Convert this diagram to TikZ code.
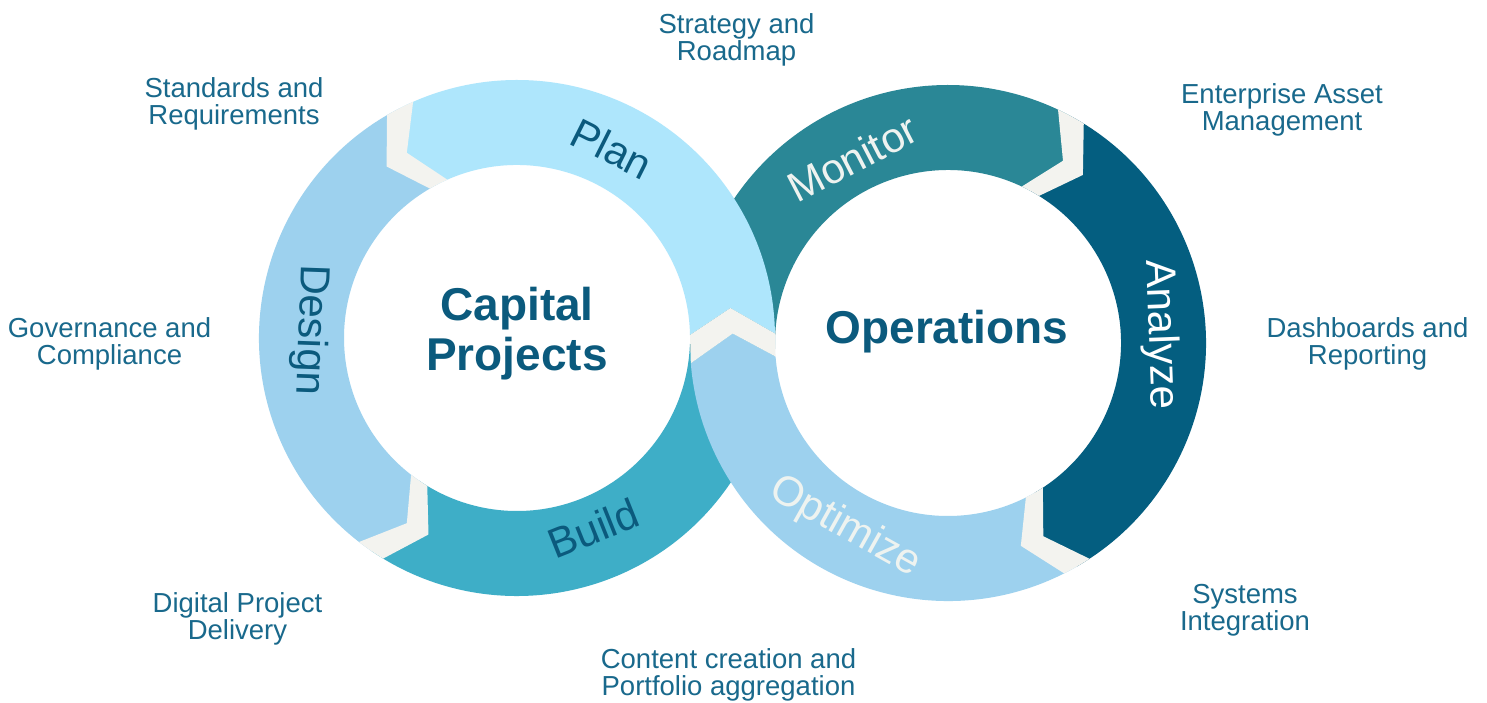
\documentclass[tikz,border=0pt]{standalone}
\usepackage{fontspec}
\setmainfont{Liberation Sans}
\usepackage{tikz}

\definecolor{plancol}{RGB}{174,230,252}
\definecolor{designcol}{RGB}{157,209,238}
\definecolor{buildcol}{RGB}{62,174,199}
\definecolor{monitorcol}{RGB}{42,135,150}
\definecolor{analyzecol}{RGB}{4,94,128}
\definecolor{optimizecol}{RGB}{157,209,238}
\definecolor{gapcol}{RGB}{243,243,239}
\definecolor{labelcol}{RGB}{25,105,140}
\definecolor{hubcol}{RGB}{11,90,125}
\definecolor{paletext}{RGB}{238,243,240}

\begin{document}
\begin{tikzpicture}[x=1pt,y=1pt,
    outerlabel/.style={text=labelcol, align=center, font=\fontsize{27.5}{27}\selectfont},
    ringlabel/.style={font=\fontsize{42}{42}\selectfont},
    hub/.style={text=hubcol, align=center, font=\fontsize{46}{50}\selectfont\bfseries}]

    \fill[white] (0,0) rectangle (1487,702);
    \useasboundingbox (0,0) rectangle (1487,702);

    % centres of the two rings
    \coordinate (cp) at (517,364);
    \coordinate (op) at (948,359);

    % left ring: Design and Build (Build runs under the crossing)
    \begin{scope}[shift={(cp)}]
    \fill[buildcol] (235.5:258) arc[start angle=235.5, end angle=358, radius=258] -- (365:215.5) -- (358:173) arc[start angle=358, end angle=235.5, radius=173] -- (242.5:215.5) -- cycle;
    \fill[designcol] (117:258) arc[start angle=117, end angle=235.5, radius=258] -- (242.5:215.5) -- (235.5:173) arc[start angle=235.5, end angle=117, radius=173] -- (124:215.5) -- cycle;
    \end{scope}

    % right ring: Monitor and Analyze (Monitor starts under the crossing)
    \begin{scope}[shift={(op)}]
    \fill[monitorcol] (182:258) arc[start angle=182, end angle=61.5, radius=258] -- (54.5:215.5) -- (61.5:173) arc[start angle=61.5, end angle=182, radius=173] -- (175:215.5) -- cycle;
    \fill[analyzecol] (61.5:258) arc[start angle=61.5, end angle=-60, radius=258] -- (-67:215.5) -- (-60:173) arc[start angle=-60, end angle=61.5, radius=173] -- (54.5:215.5) -- cycle;
    % Optimize lies on top at the crossing
    \fill[optimizecol] (-60:258) arc[start angle=-60, end angle=-175.5, radius=258] -- (-182.5:215.5) -- (-175.5:173) arc[start angle=-175.5, end angle=-60, radius=173] -- (-67:215.5) -- cycle;
    \end{scope}

    % Plan lies on top at the crossing
    \begin{scope}[shift={(cp)}]
    \fill[plancol] (1:258) arc[start angle=1, end angle=117, radius=258] -- (124:215.5) -- (117:173) arc[start angle=117, end angle=1, radius=173] -- (8:215.5) -- cycle;
    \end{scope}

    % chevron gaps
    \begin{scope}[shift={(cp)}]
    \fill[gapcol] (113.75:258) -- (120.75:215.5) -- (113.75:173) arc[start angle=113.75, end angle=120.25, radius=173] -- (127.25:215.5) -- (120.25:258) arc[start angle=120.25, end angle=113.75, radius=258] -- cycle;
    \fill[gapcol] (232.25:258) -- (239.25:215.5) -- (232.25:173) arc[start angle=232.25, end angle=238.75, radius=173] -- (245.75:215.5) -- (238.75:258) arc[start angle=238.75, end angle=232.25, radius=258] -- cycle;
    \end{scope}
    \begin{scope}[shift={(op)}]
    \fill[gapcol] (64.75:258) -- (57.75:215.5) -- (64.75:173) arc[start angle=64.75, end angle=58.25, radius=173] -- (51.25:215.5) -- (58.25:258) arc[start angle=58.25, end angle=64.75, radius=258] -- cycle;
    \fill[gapcol] (-56.75:258) -- (-63.75:215.5) -- (-56.75:173) arc[start angle=-56.75, end angle=-63.25, radius=173] -- (-70.25:215.5) -- (-63.25:258) arc[start angle=-63.25, end angle=-56.75, radius=258] -- cycle;
    \end{scope}
    % gap at the crossing, from Optimize into Plan
    \fill[gapcol] ([shift={(-175.5:258)}]op) -- ([shift={(177.5:215.5)}]op) -- ([shift={(-175.5:173)}]op)
        -- ([shift={(1:258)}]cp) -- ([shift={(8:215.5)}]cp) -- ([shift={(1:173)}]cp) -- cycle;

    % phase names on the rings
    \node[ringlabel, text=hubcol, rotate=-26.6] (plan) at ([shift={(63.4:212)}]cp) {Plan};
    \node[ringlabel, text=hubcol, rotate=-92] (design) at ([shift={(177.8:207)}]cp) {Design};
    \node[ringlabel, text=hubcol, rotate=21.8] (build) at ([shift={(-68.2:205)}]cp) {Build};
    \node[ringlabel, text=paletext, rotate=27.4] (monitor) at ([shift={(117.4:208)}]op) {Monitor};
    \node[ringlabel, text=white, rotate=-87.8] (analyze) at ([shift={(2.2:212)}]op) {Analyze};
    \node[ringlabel, text=paletext, rotate=-29.2] (optimize) at ([shift={(240.8:211)}]op) {Optimize};

    % ring titles
    \node[hub] (capital) at (517,368) {Capital\\Projects};
    \node[hub, anchor=base] (operations) at (947,358) {Operations};

    % services round the rings
    \node[outerlabel] (strategy) at (736.5,662.5) {Strategy and\\Roadmap};
    \node[outerlabel] (standards) at (234,598) {Standards and\\Requirements};
    \node[outerlabel] (enterprise) at (1282,592.5) {Enterprise Asset\\Management};
    \node[outerlabel] (governance) at (109.5,358) {Governance and\\Compliance};
    \node[outerlabel] (dashboards) at (1367.5,358) {Dashboards and\\Reporting};
    \node[outerlabel] (digital) at (237.5,83) {Digital Project\\Delivery};
    \node[outerlabel] (systems) at (1245,91.5) {Systems\\Integration};
    \node[outerlabel] (content) at (728.5,27.5) {Content creation and\\Portfolio aggregation};

\end{tikzpicture}
\end{document}
